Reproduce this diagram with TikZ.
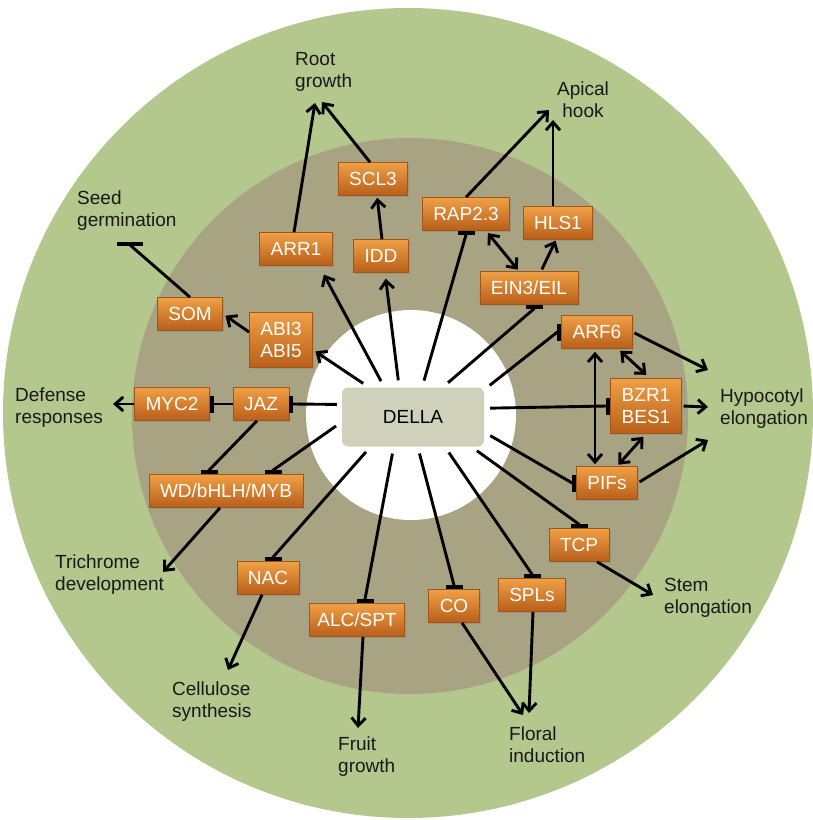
\documentclass[tikz,border=0pt]{standalone}
\usepackage{fontspec}
\setmainfont{Liberation Sans}
\usetikzlibrary{arrows.meta,shadows}

\definecolor{ringgreen}{RGB}{180,199,140}
\definecolor{ringtan}{RGB}{168,163,131}
\definecolor{dellafill}{RGB}{208,209,187}
\definecolor{boxtop}{RGB}{240,160,70}
\definecolor{boxbot}{RGB}{184,94,26}
\definecolor{boxline}{RGB}{160,86,22}

\tikzset{
    gene/.style={draw=boxline, line width=0.6pt, top color=boxtop, bottom color=boxbot,
        text=white, minimum height=33pt, inner xsep=11pt, align=center,
        drop shadow={opacity=0.35, shadow xshift=1.5pt, shadow yshift=-1.5pt}},
    effect/.style={align=left, inner sep=1pt, text=black!90},
    act/.style={-{Straight Barb[length=8pt,width=14pt]}, line width=2.9pt},
    both/.style={{Straight Barb[length=8pt,width=14pt]}-{Straight Barb[length=8pt,width=14pt]}, line width=2.9pt},
    inh/.style={-{Bar[width=17pt,line width=4pt]}, line width=2.9pt, line join=round}
}

\begin{document}
\begin{tikzpicture}[x=1pt, y=-1pt, font=\fontsize{19}{22}\selectfont]
    \fill[white] (0,0) rectangle (812,820);
    \useasboundingbox (0,0) rectangle (812,820);

    % Rings
    \fill[ringgreen] (408,413) circle (405pt);
    \fill[ringtan] (410,416) circle (278pt);
    \fill[white] (411,415) circle (105pt);

    % Centre
    \node[fill=dellafill, rounded corners=6pt, minimum width=142pt, minimum height=59pt] (della) at (413,417) {DELLA};

    % Targets
    \node[gene] (scl) at (373,179) {SCL3};
    \node[gene] (arr) at (296,249) {ARR1};
    \node[gene] (idd) at (381,256) {IDD};
    \node[gene] (som) at (190,314) {SOM};
    \node[gene, minimum height=55pt] (abi) at (281,340) {ABI3\\ABI5};
    \node[gene] (myc) at (172,404) {MYC2};
    \node[gene] (jaz) at (261,404) {JAZ};
    \node[gene] (wd) at (226,491) {WD/bHLH/MYB};
    \node[gene] (nac) at (268,578) {NAC};
    \node[gene, inner xsep=8pt] (alc) at (357,620) {ALC/SPT};
    \node[gene] (co) at (454,606) {CO};
    \node[gene] (spl) at (532,595) {SPLs};
    \node[gene] (tcp) at (579,545) {TCP};
    \node[gene] (pifs) at (607,483) {PIFs};
    \node[gene, minimum height=55pt] (bzr) at (646,406) {BZR1\\BES1};
    \node[gene] (arf) at (597,332) {ARF6};
    \node[gene] (ein) at (529,288) {EIN3/EIL};
    \node[gene] (rap) at (466,214) {RAP2.3};
    \node[gene] (hls) at (558,223) {HLS1};

    % Responses
    \node[effect, anchor=north west] (root) at (294,51) {Root\\growth};
    \node[effect, anchor=north, align=center] (apical) at (583,81) {Apical\\hook};
    \node[effect, anchor=north west] (seed) at (76,190) {Seed\\germination};
    \node[effect, anchor=north west] (def) at (14,387) {Defense\\responses};
    \node[effect, anchor=north west] (hypo) at (719,388) {Hypocotyl\\elongation};
    \node[effect, anchor=north west] (trich) at (54,554) {Trichrome\\development};
    \node[effect, anchor=north west] (cell) at (171,681) {Cellulose\\synthesis};
    \node[effect, anchor=north west] (fruit) at (337,736) {Fruit\\growth};
    \node[effect, anchor=north west] (floral) at (508,726) {Floral\\induction};
    \node[effect, anchor=north west] (stem) at (663,577) {Stem\\elongation};

    \coordinate (rootin1) at (315,103);
    \coordinate (rootin2) at (322,102);
    \coordinate (apin1) at (549,110);
    \coordinate (apin2) at (553,120);
    \coordinate (seedbar) at (130,242);
    \coordinate (trichin) at (163,572);
    \coordinate (cellin) at (228,670);
    \coordinate (fruitin) at (358,728);
    \coordinate (floralin1) at (523,715);
    \coordinate (floralin2) at (529,713);
    \coordinate (stemin) at (653,595);
    \coordinate (hypin1) at (708,370);
    \coordinate (hypin2) at (708,407);
    \coordinate (hypin3) at (708,440);

    % DELLA activates
    \draw[act, shorten <=7pt, shorten >=3pt] (della.146) -- (abi.-17);
    \draw[act, shorten <=7pt, shorten >=10pt] (della.134) -- (arr.-36);
    \draw[act, shorten <=7pt, shorten >=6pt] (della.115) -- ([xshift=4pt]idd.south);

    % DELLA represses
    \draw[inh, shorten <=7pt] (della.73) -- ([yshift=-4pt]rap.south) -- (rap.south);
    \draw[inh, shorten <=7pt] (della.45) -- ([xshift=5pt,yshift=-4pt]ein.south) -- ([xshift=5pt]ein.south);
    \draw[inh, shorten <=7pt] (della.21) -- ([xshift=-4pt]arf.west) -- (arf.west);
    \draw[inh, shorten <=6pt] (della.7) -- ([xshift=-4pt]bzr.west) -- (bzr.west);
    \draw[inh, shorten <=7pt] (della.-12) -- ([xshift=-4pt]pifs.west) -- (pifs.west);
    \draw[inh, shorten <=7pt] (della.-27) -- ([yshift=4pt]tcp.north) -- (tcp.north);
    \draw[inh, shorten <=7pt] (della.-43) -- ([yshift=4pt]spl.north) -- (spl.north);
    \draw[inh, shorten <=7pt] (della.-81) -- ([yshift=4pt]co.north) -- (co.north);
    \draw[inh, shorten <=7pt] (della.-123) -- ([xshift=8pt,yshift=4pt]alc.north) -- ([xshift=8pt]alc.north);
    \draw[inh, shorten <=7pt] (della.-145) -- ([xshift=5pt,yshift=4pt]nac.north) -- ([xshift=5pt]nac.north);
    \draw[inh, shorten <=7pt] (della.-176) -- ([xshift=47pt,yshift=4pt]wd.north) -- ([xshift=47pt]wd.north);
    \draw[inh, shorten <=5pt] (della.170) -- ([xshift=4pt]jaz.east) -- (jaz.east);

    % Left side
    \draw[inh] (jaz.west) -- ([xshift=4pt]myc.east) -- (myc.east);
    \draw[inh] ([xshift=-4pt]jaz.south) -- ([xshift=-17pt,yshift=4pt]wd.north) -- ([xshift=-17pt]wd.north);
    \draw[act, shorten >=9pt] (myc.west) -- (myc.west -| def.east);
    \draw[act, shorten >=3pt] (abi.166) -- (som.east);
    \draw[inh, -{Bar[width=26pt,line width=4pt]}] (som.north) -- ([yshift=-3pt]seedbar) -- (seedbar);
    \draw[act] ([xshift=-6pt]wd.south) -- (trichin);

    % Bottom
    \draw[act] ([xshift=-6pt]nac.south) -- (cellin);
    \draw[act] ([xshift=6pt]alc.south) -- (fruitin);
    \draw[act] ([xshift=8pt]co.south) -- (floralin1);
    \draw[act] ([xshift=1pt]spl.south) -- (floralin2);
    \draw[act] ([xshift=18pt]tcp.south) -- (stemin);

    % Hypocotyl
    \draw[act, shorten <=2pt] (arf.east) -- (hypin1);
    \draw[act, shorten <=2pt] (bzr.east) -- (hypin2);
    \draw[act, shorten <=2pt] (pifs.east) -- (hypin3);
    \draw[both, shorten <=3pt, shorten >=5pt] ([xshift=21pt]arf.south) -- ([xshift=4pt]bzr.north);
    \draw[both, shorten <=3pt, shorten >=2pt] ([xshift=-2pt]arf.south) -- ([xshift=-2pt]arf.south |- pifs.north);
    \draw[both, shorten <=4pt, shorten >=2pt] (bzr.south) -- ([xshift=10pt]pifs.north);

    % Apical hook
    \draw[both, shorten <=3pt, shorten >=2pt] ([xshift=20pt]rap.south) -- ([xshift=-10pt]ein.north);
    \draw[act, shorten <=2pt, shorten >=1pt] ([xshift=12pt]ein.north) -- ([xshift=-2pt]hls.south);
    \draw[act] ([xshift=-5pt]hls.north) -- (apin2);
    \draw[act] (rap.north) -- (apin1);

    % Root growth
    \draw[act, shorten >=2pt] ([xshift=1pt]idd.north) -- ([xshift=4pt]scl.south);
    \draw[act] ([xshift=-3pt]scl.north) -- (rootin2);
    \draw[act] ([xshift=-2pt]arr.north) -- (rootin1);
\end{tikzpicture}
\end{document}
